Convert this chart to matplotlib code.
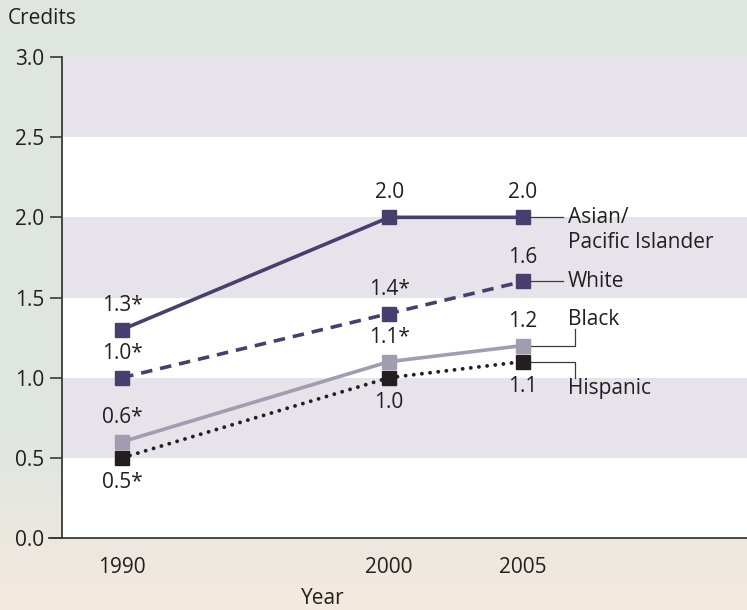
import numpy as np
import matplotlib.pyplot as plt

plt.rcParams['font.family'] = ['Open Sans', 'DejaVu Sans']

years = [1990, 2000, 2005]
asian = [1.3, 2.0, 2.0]
white = [1.0, 1.4, 1.6]
black = [0.6, 1.1, 1.2]
hispanic = [0.5, 1.0, 1.1]

asian_labels = ["1.3*", "2.0", "2.0"]
white_labels = ["1.0*", "1.4*", "1.6"]
black_labels = ["0.6*", "1.1*", "1.2"]
hispanic_labels = ["0.5*", "1.0", "1.1"]

y_ticks = [0.0, 0.5, 1.0, 1.5, 2.0, 2.5, 3.0]

PURPLE = "#463f6f"
LILAC = "#a29cb0"
DARK = "#231f20"
BAND = "#e6e3eb"
LEADER = "#3a3a3a"

fig = plt.figure(figsize=(7.47, 6.10), dpi=100)

# -------- soft background --------
bg = fig.add_axes([0, 0, 1, 1], zorder=-10)
h, w = 61, 75
yy, xx = np.mgrid[0:1:h * 1j, 0:1:w * 1j]
top = np.array([0.875, 0.901, 0.882])
warm = np.array([0.955, 0.915, 0.875])
t = np.clip((yy - 0.72) / 0.28, 0, 1)[..., None]
img = top * (1 - t) + warm * t
bg.imshow(img, aspect="auto", extent=[0, 1, 0, 1], origin="upper", interpolation="bicubic")
bg.axis("off")

ax = fig.add_axes([62 / 747, 72 / 610, 685 / 747, 481 / 610])
ax.set_facecolor("white")

# alternating bands
for lo in [0.5, 1.5, 2.5]:
    ax.axhspan(lo, lo + 0.5, color=BAND, lw=0, zorder=0)

ax.set_xlim(1987.75, 2013.4)
ax.set_ylim(0, 3.0)

# -------- lines --------
ms = 10
ax.plot(years, asian, color=PURPLE, lw=2.6, marker="s", ms=ms, zorder=4)
ax.plot(years, white, color=PURPLE, lw=2.6, ls=(0, (3.2, 2.2)), marker="s", ms=ms, zorder=4)
ax.plot(years, black, color=LILAC, lw=2.6, marker="s", ms=ms, zorder=3)
ax.plot(years, hispanic, color=DARK, lw=2.8, ls=(0, (0.01, 2.1)), dash_capstyle="round",
        marker="s", ms=ms, zorder=3)

fs = 15
for x, y, s in zip(years, asian, asian_labels):
    ax.annotate(s, (x, y), xytext=(0, 10), textcoords="offset points", ha="center", va="bottom", fontsize=fs, color="#231f20")
for x, y, s in zip(years, white, white_labels):
    ax.annotate(s, (x, y), xytext=(0, 10), textcoords="offset points", ha="center", va="bottom", fontsize=fs, color="#231f20")
for x, y, s in zip(years, black, black_labels):
    ax.annotate(s, (x, y), xytext=(0, 10), textcoords="offset points", ha="center", va="bottom", fontsize=fs, color="#231f20")
for x, y, s in zip(years, hispanic, hispanic_labels):
    ax.annotate(s, (x, y), xytext=(0, -10), textcoords="offset points", ha="center", va="top", fontsize=fs, color="#231f20")

# -------- series labels with leaders --------
x_end = years[-1]
ax.plot([x_end, 2006.5], [asian[-1]] * 2, color=LEADER, lw=0.9, zorder=2)
ax.text(2006.7, asian[-1], "Asian/", ha="left", va="center", fontsize=fs, color="#231f20")
ax.text(2006.7, asian[-1] - 0.155, "Pacific Islander", ha="left", va="center", fontsize=fs, color="#231f20")
ax.plot([x_end, 2006.5], [white[-1]] * 2, color=LEADER, lw=0.9, zorder=2)
ax.text(2006.7, white[-1], "White", ha="left", va="center", fontsize=fs, color="#231f20")

ax.plot([x_end, 2006.95, 2006.95], [black[-1], black[-1], 1.305], color=LEADER, lw=0.9, zorder=2)
ax.text(2006.7, 1.36, "Black", ha="left", va="center", fontsize=fs, color="#231f20")
ax.plot([x_end, 2006.95, 2006.95], [hispanic[-1], hispanic[-1], 0.995], color=LEADER, lw=0.9, zorder=2)
ax.text(2006.7, 0.93, "Hispanic", ha="left", va="center", fontsize=fs, color="#231f20")

# -------- axes --------
ax.set_yticks(y_ticks)
ax.set_yticklabels([f"{v:.1f}" for v in y_ticks], fontsize=fs, color="#231f20")
ax.set_xticks(years)
ax.set_xticklabels([str(y) for y in years], fontsize=fs, color="#231f20")
ax.tick_params(axis="y", length=9, width=1.2, color="#3a3a3a", pad=4)
ax.tick_params(axis="x", length=0, pad=14)

for side in ["top", "right"]:
    ax.spines[side].set_visible(False)
ax.spines["left"].set_color("#3a3a3a")
ax.spines["left"].set_linewidth(1.3)
ax.spines["bottom"].set_color("#3a3a3a")
ax.spines["bottom"].set_linewidth(1.3)
ax.spines["bottom"].set_bounds(1987.75 - 0.5, 2013.4)
ax.spines["bottom"].set_clip_on(False)

fig.text(8 / 747, 1 - 18 / 610, "Credits", fontsize=fs, color="#231f20", ha="left", va="center")
fig.text(323 / 747, 1 - 598 / 610, "Year", fontsize=fs, color="#231f20", ha="center", va="center")

fig.savefig("out.png", dpi=100)
